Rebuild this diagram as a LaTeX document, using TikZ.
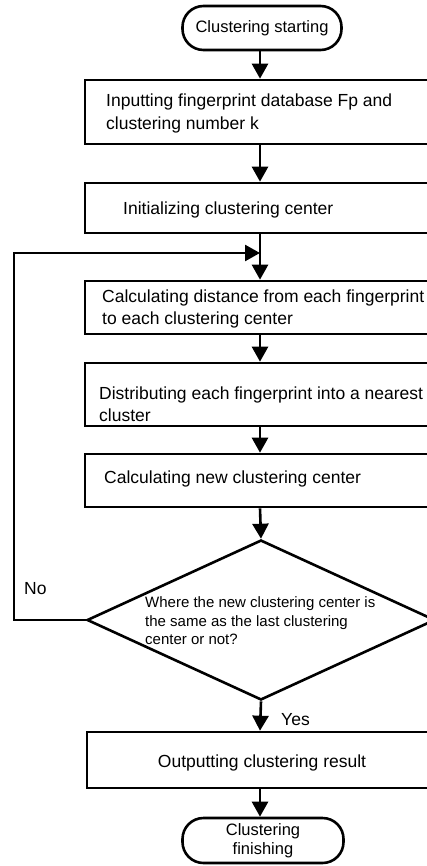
\documentclass[tikz,border=0pt]{standalone}
\usepackage{fontspec}
\setmainfont{Liberation Sans}
\usetikzlibrary{arrows.meta,shapes.geometric}
\begin{document}
\begin{tikzpicture}[x=1pt,y=-1pt,
  flow/.style={line width=2.6pt},
  arr/.style={flow,-{Triangle[length=15pt,width=16pt]}},
  stepbox/.style={draw,line width=2.6pt,minimum width=350pt,inner sep=0pt},
  term/.style={draw,line width=2.6pt,rounded corners=21pt,inner sep=0pt,align=center,font=\fontsize{16.5}{19}\selectfont},
  txt/.style={anchor=west,align=left,inner sep=0pt,font=\fontsize{17.5}{22.5}\selectfont},
  small/.style={anchor=west,align=left,inner sep=0pt,font=\fontsize{15}{18.5}\selectfont},
  lbl/.style={inner sep=0pt,font=\fontsize{17.5}{20}\selectfont}]
\useasboundingbox (0,0) rectangle (427,866);
\clip (0,0) rectangle (427,866);

% terminals
\node[term,minimum width=159pt,minimum height=44pt] (start) at (262,28) {Clustering starting};
\node[term,minimum width=161pt,minimum height=45pt] (finish) at (263,840.5) {Clustering\\finishing};

% process boxes (right edges run past the frame)
\node[stepbox,minimum height=64pt] (b1) at (260,112) {};
\node[txt] (t1) at (106,113.5) {Inputting fingerprint database Fp and\\clustering number k};
\node[stepbox,minimum height=50pt] (b2) at (260,208) {};
\node[txt] (t2) at (123,210) {Initializing clustering center};
\node[stepbox,minimum height=53pt] (b3) at (260,307.5) {};
\node[txt] (t3) at (102,309) {Calculating distance from each fingerprint\\to each clustering center};
\node[stepbox,minimum height=63pt] (b4) at (260,394.5) {};
\node[txt] (t4) at (99,404) {Distributing each fingerprint into a nearest\\cluster};
\node[stepbox,minimum height=53pt] (b5) at (260,480.5) {};
\node[txt] (t5) at (104,479) {Calculating new clustering center};

% decision
\node[draw,diamond,line width=2.6pt,minimum width=348pt,minimum height=160pt,inner sep=0pt] (dec) at (261,620) {};
\node[small] (td) at (145,621) {Where the new clustering center is\\the same as the last clustering\\center or not?};

\node[stepbox,minimum width=346pt,minimum height=56pt] (b6) at (260,760) {};
\node[lbl] (t6) at (262,763) {Outputting clustering result};

% labels
\node[lbl,anchor=west] (no) at (24,589) {No};
\node[lbl,anchor=west] (yes) at (281,720) {Yes};

% connectors
\coordinate (join) at (260,253);
\coordinate (lc) at (14,620);
\draw[arr] (start.south -| b1.north) -- (b1.north);
\draw[arr] (b1.south) -- (b2.north);
\draw[arr] (b2.south) -- (b3.north);
\draw[arr] (b3.south) -- (b4.north);
\draw[arr] (b4.south) -- (b5.north);
\draw[arr] (b5.south) -- (dec.north);
\draw[arr] (dec.south) -- (b6.north);
\draw[arr] (b6.south) -- (finish.north -| b6.south);
\draw[arr] (dec.west) -- (lc) |- (join);
\end{tikzpicture}
\end{document}
